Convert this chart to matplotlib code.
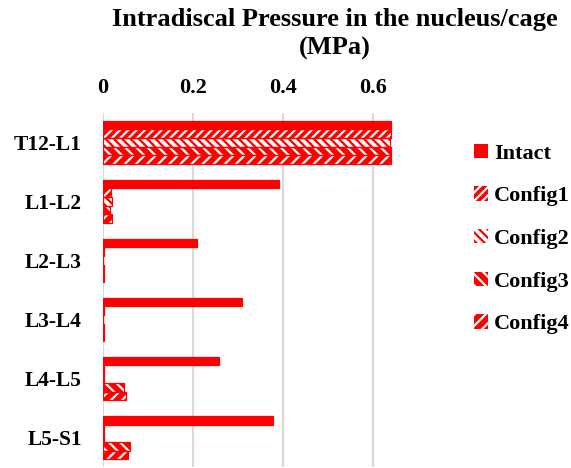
import matplotlib.pyplot as plt
import numpy as np
from matplotlib.patches import Patch

plt.rcParams['font.family'] = ['Liberation Serif', 'DejaVu Serif']
plt.rcParams['font.weight'] = 'bold'
plt.rcParams['hatch.linewidth'] = 1.6

levels = ['T12-L1', 'L1-L2', 'L2-L3', 'L3-L4', 'L4-L5', 'L5-S1']
series = ['Intact', 'Config1', 'Config2', 'Config3', 'Config4']
intact = [0.640, 0.391, 0.210, 0.309, 0.258, 0.378]
config1 = [0.640, 0.018, 0.002, 0.002, 0.003, 0.003]
config2 = [0.638, 0.020, 0.001, 0.001, 0.002, 0.002]
config3 = [0.640, 0.016, 0.002, 0.002, 0.047, 0.060]
config4 = [0.640, 0.020, 0.002, 0.002, 0.052, 0.056]
values = [intact, config1, config2, config3, config4]

red = '#ff0000'
# (face, hatch colour, hatch) for each series
styles = [
    (red, red, None),
    (red, 'white', '////'),
    ('white', red, '\\\\\\\\'),
    (red, 'white', '\\\\\\'),
    (red, 'white', '///'),
]

fig = plt.figure(figsize=(5.71, 4.68), dpi=100)
ax = fig.add_axes([0.180, 0.002, 0.513, 0.757])

y = np.arange(len(levels))
h = 0.147
for i, (vals, (face, hc, hatch)) in enumerate(zip(values, styles)):
    pos = y - 2 * h + i * h
    ax.barh(pos, vals, height=h, color=face, edgecolor=hc, hatch=hatch,
            linewidth=0, zorder=3)
    ax.barh(pos, vals, height=h, fill=False, edgecolor=red, linewidth=0.9,
            zorder=4)

ax.set_xlim(0, 0.65)
ax.set_ylim(len(levels) - 0.5, -0.5)
ax.set_xticks([0, 0.2, 0.4, 0.6])
ax.set_xticklabels(['0', '0.2', '0.4', '0.6'])
ax.xaxis.tick_top()
ax.set_yticks(y)
ax.set_yticklabels(levels)
ax.tick_params(axis='both', length=0)
ax.tick_params(axis='x', pad=11, labelsize=16)
ax.tick_params(axis='y', pad=15, labelsize=15.5)
ax.grid(axis='x', color='#d9d9d9', linewidth=1.5, zorder=0)
for s in ax.spines.values():
    s.set_visible(False)

fig.text(0.587, 0.983, 'Intradiscal Pressure in the nucleus/cage\n(MPa)',
         ha='center', va='top', fontsize=19, fontweight='bold',
         linespacing=1.3)

handles = [Patch(facecolor=face, edgecolor=red if hatch is None else hc,
                 hatch=hatch, linewidth=0)
           for face, hc, hatch in styles]
leg = fig.legend(handles, series, loc='upper left', bbox_to_anchor=(0.815, 0.712),
                 frameon=False, fontsize=16, handlelength=0.6, handleheight=0.6,
                 handletextpad=0.3, labelspacing=1.02, borderaxespad=0)

fig.savefig('out.png', dpi=100)
